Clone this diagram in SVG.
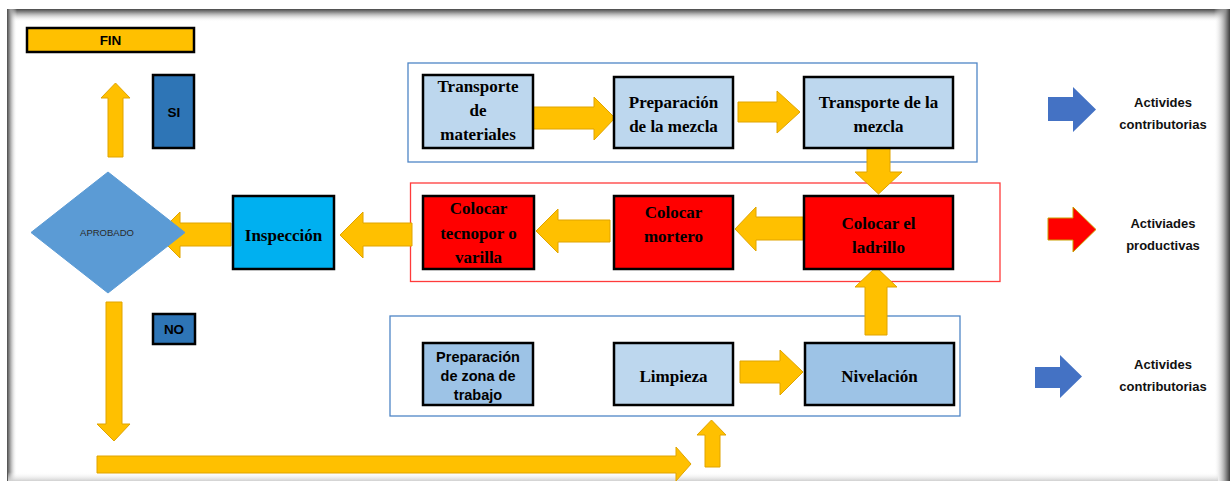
<svg xmlns="http://www.w3.org/2000/svg" width="1230" height="481" viewBox="0 0 1230 481">
  <defs>
    <linearGradient id="edgeTop" x1="0" y1="0" x2="0" y2="1">
      <stop offset="0" stop-color="#4a4a4a"/>
      <stop offset="0.25" stop-color="#8c8c8c"/>
      <stop offset="1" stop-color="#ffffff" stop-opacity="0"/>
    </linearGradient>
    <linearGradient id="edgeLeft" x1="0" y1="0" x2="1" y2="0">
      <stop offset="0" stop-color="#4a4a4a"/>
      <stop offset="0.3" stop-color="#9a9a9a"/>
      <stop offset="1" stop-color="#ffffff" stop-opacity="0"/>
    </linearGradient>
    <linearGradient id="edgeRight" x1="1" y1="0" x2="0" y2="0">
      <stop offset="0" stop-color="#3c3c3c"/>
      <stop offset="0.25" stop-color="#8a8a8a"/>
      <stop offset="1" stop-color="#ffffff" stop-opacity="0"/>
    </linearGradient>
    <linearGradient id="edgeBottom" x1="0" y1="1" x2="0" y2="0">
      <stop offset="0" stop-color="#d0d0d0"/>
      <stop offset="1" stop-color="#ffffff" stop-opacity="0"/>
    </linearGradient>
    <style>
      .box { stroke: #000; stroke-width: 2.5; }
      .light { fill: #BDD7EE; }
      .mid { fill: #9DC3E6; }
      .red { fill: #FF0000; }
      .cyan { fill: #00B0F0; }
      .tag { fill: #2E75B6; stroke: #000; stroke-width: 2.5; }
      .flow { fill: #FFC000; stroke: #E0A400; stroke-width: 1; }
      .groupBlue { fill: none; stroke: #4F86C6; stroke-width: 1.3; }
      .groupRed { fill: none; stroke: #FF3B3B; stroke-width: 1.3; }
      .serif { font-family: "Liberation Serif", "Times New Roman", serif; font-weight: bold; font-size: 17px; fill: #000; text-anchor: middle; }
      .sans { font-family: "Liberation Sans", Arial, sans-serif; font-weight: bold; fill: #000; text-anchor: middle; }
      .legend { font-family: "Liberation Sans", Arial, sans-serif; font-weight: bold; font-size: 13px; fill: #111; text-anchor: middle; }
    </style>
  </defs>

  <!-- page background and framed border -->
  <rect x="0" y="0" width="1230" height="481" fill="#ffffff"/>
  <rect x="8" y="9" width="1221" height="13" fill="url(#edgeTop)"/>
  <rect x="7" y="9" width="10" height="472" fill="url(#edgeLeft)"/>
  <rect x="1214" y="9" width="16" height="472" fill="url(#edgeRight)"/>
  <rect x="8" y="472" width="1210" height="9" fill="url(#edgeBottom)"/>

  <!-- grouping frames -->
  <g id="groups">
    <rect class="groupBlue" x="408" y="63" width="569" height="99"/>
    <rect class="groupRed" x="410.5" y="183" width="589.5" height="98.5"/>
    <rect class="groupBlue" x="390" y="316" width="570" height="100"/>
  </g>

  <!-- connectors (block arrows) -->
  <g id="connectors">
    <!-- top row, left to right -->
    <polygon class="flow" points="532,107 594,107 594,97 615,118 594,140 594,129 532,129"/>
    <polygon class="flow" points="738,102 777,102 777,91 800,112 777,133 777,122 738,122"/>
    <!-- down into Colocar el ladrillo -->
    <polygon class="flow" points="867,148 890,148 890,172 902,172 878.5,194 855,172 867,172"/>
    <!-- up into Colocar el ladrillo -->
    <polygon class="flow" points="865,335 865,287 855,287 876,267 897,287 887,287 887,335"/>
    <!-- middle row, right to left -->
    <polygon class="flow" points="803,217 756,217 756,207 735,229 756,251 756,240 803,240"/>
    <polygon class="flow" points="610,220 558,220 558,209 536,231 558,253 558,242 610,242"/>
    <polygon class="flow" points="412,223 363,223 363,212 340,235 363,258 363,246 412,246"/>
    <polygon class="flow" points="231,223 180,223 180,212 157,235 180,258 180,246 231,246"/>
    <!-- to FIN -->
    <polygon class="flow" points="108,157 108,98 101,98 115.5,83 130,98 123,98 123,157"/>
    <!-- down from decision -->
    <polygon class="flow" points="106,302 122,302 122,424 130,424 114,441 97,424 106,424"/>
    <!-- return along the bottom -->
    <polygon class="flow" points="97,456 676,456 676,447 691,464 676,481 676,473 97,473"/>
    <polygon class="flow" points="705,467 705,435 697,435 711.5,420 726,435 720,435 720,467"/>
    <!-- bottom row -->
    <polygon class="flow" points="740,361 780,361 780,350 803,372 780,395 780,383 740,383"/>
  </g>

  <!-- decision and outcome labels -->
  <g id="fin">
    <rect x="27" y="28" width="167" height="24" fill="#FFC000" stroke="#000" stroke-width="2.5"/>
    <text class="sans" x="110.5" y="45" font-size="13.5">FIN</text>
  </g>
  <g id="si">
    <rect class="tag" x="153" y="75" width="41" height="73"/>
    <text class="sans" x="174" y="117" font-size="13.5">SI</text>
  </g>
  <g id="no">
    <rect class="tag" x="153" y="314" width="42" height="30"/>
    <text class="sans" x="174" y="334" font-size="13.5">NO</text>
  </g>
  <g id="aprobado">
    <polygon points="108,172 185,232.5 108,293 31,232.5" fill="#5B9BD5" stroke="#5B9BD5" stroke-width="1"/>
    <text x="107" y="236" font-family="Liberation Sans, Arial, sans-serif" font-size="9.5" fill="#2a2a2a" text-anchor="middle">APROBADO</text>
  </g>

  <!-- inspection -->
  <g id="inspeccion">
    <rect class="box cyan" x="233" y="196" width="101" height="73"/>
    <text class="serif" x="283.5" y="241">Inspección</text>
  </g>

  <!-- contributory activities, top row -->
  <g id="transporte-materiales">
    <rect class="box light" x="423" y="75" width="110" height="73"/>
    <text class="serif" x="478" y="92">Transporte</text>
    <text class="serif" x="478" y="116">de</text>
    <text class="serif" x="478" y="140">materiales</text>
  </g>
  <g id="preparacion-mezcla">
    <rect class="box light" x="614" y="77" width="119" height="71"/>
    <text class="serif" x="673.5" y="108">Preparación</text>
    <text class="serif" x="673.5" y="132">de la mezcla</text>
  </g>
  <g id="transporte-mezcla">
    <rect class="box light" x="804" y="77" width="149" height="71"/>
    <text class="serif" x="878.5" y="108">Transporte de la</text>
    <text class="serif" x="878.5" y="132">mezcla</text>
  </g>

  <!-- productive activities -->
  <g id="colocar-tecnopor">
    <rect class="box red" x="423" y="196" width="111" height="73"/>
    <text class="serif" x="478.5" y="214">Colocar</text>
    <text class="serif" x="478.5" y="239">tecnopor o</text>
    <text class="serif" x="478.5" y="263">varilla</text>
  </g>
  <g id="colocar-mortero">
    <rect class="box red" x="614" y="196" width="119" height="73"/>
    <text class="serif" x="673.5" y="218">Colocar</text>
    <text class="serif" x="673.5" y="242">mortero</text>
  </g>
  <g id="colocar-ladrillo">
    <rect class="box red" x="804" y="196" width="149" height="73"/>
    <text class="serif" x="878.5" y="229">Colocar el</text>
    <text class="serif" x="878.5" y="253">ladrillo</text>
  </g>

  <!-- contributory activities, bottom row -->
  <g id="preparacion-zona">
    <rect class="box mid" x="423" y="343" width="110" height="62"/>
    <text class="sans" x="478" y="362" font-size="14.5">Preparación</text>
    <text class="sans" x="478" y="381" font-size="14.5">de zona de</text>
    <text class="sans" x="478" y="400" font-size="14.5">trabajo</text>
  </g>
  <g id="limpieza">
    <rect class="box light" x="614" y="343" width="119" height="62"/>
    <text class="serif" x="673.5" y="382">Limpieza</text>
  </g>
  <g id="nivelacion">
    <rect class="box mid" x="805" y="343" width="149" height="62"/>
    <text class="serif" x="879.5" y="382">Nivelación</text>
  </g>

  <!-- legend -->
  <g id="legend-contributorias-1">
    <polygon points="1048,97 1073,97 1073,87 1096,109.5 1073,132 1073,121 1048,121" fill="#4472C4"/>
    <text class="legend" x="1163" y="107">Activides</text>
    <text class="legend" x="1163" y="129">contributorias</text>
  </g>
  <g id="legend-productivas">
    <polygon points="1048,218 1073,218 1073,207 1096,229.5 1073,252 1073,240 1048,240" fill="#FF0000" stroke="#C9A000" stroke-width="1"/>
    <text class="legend" x="1163" y="228">Activiades</text>
    <text class="legend" x="1163" y="250">productivas</text>
  </g>
  <g id="legend-contributorias-2">
    <polygon points="1035,367 1060,367 1060,355 1082,376.5 1060,398 1060,388 1035,388" fill="#4472C4"/>
    <text class="legend" x="1163" y="369">Activides</text>
    <text class="legend" x="1163" y="391">contributorias</text>
  </g>
</svg>
